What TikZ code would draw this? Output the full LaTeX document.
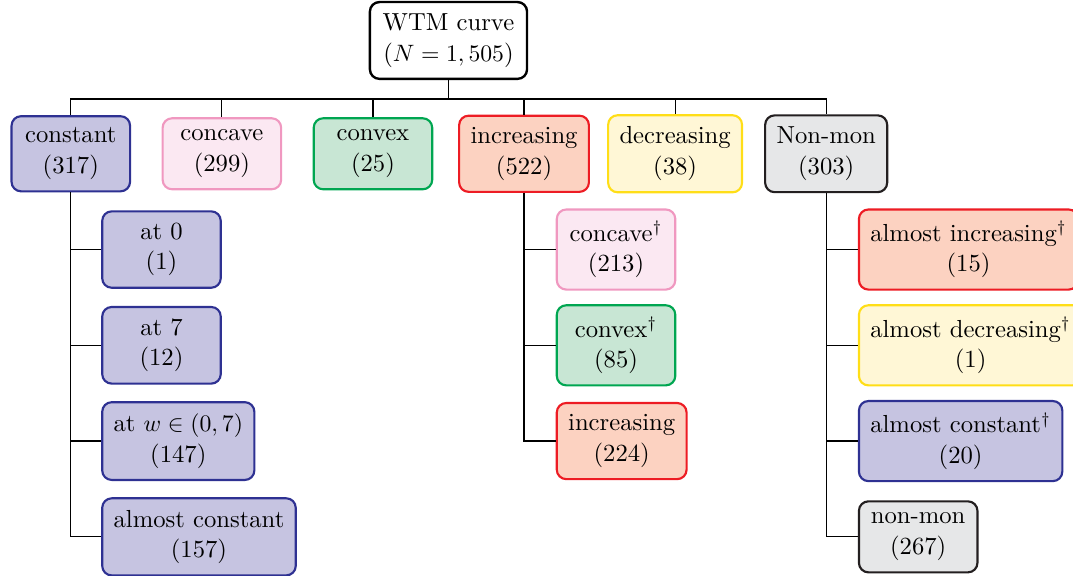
\documentclass[tikz,border=0pt]{standalone}
\usepackage{amsmath}
\usepackage{tikz}
\usetikzlibrary{positioning}
\definecolor{cstdraw}{RGB}{46,49,146}
\definecolor{cstfill}{RGB}{198,196,225}
\definecolor{ccvdraw}{RGB}{240,152,192}
\definecolor{ccvfill}{RGB}{251,232,242}
\definecolor{cvxdraw}{RGB}{0,166,81}
\definecolor{cvxfill}{RGB}{200,230,212}
\definecolor{incdraw}{RGB}{237,28,36}
\definecolor{incfill}{RGB}{252,210,193}
\definecolor{decdraw}{RGB}{255,222,23}
\definecolor{decfill}{RGB}{255,247,214}
\definecolor{nondraw}{RGB}{35,31,32}
\definecolor{nonfill}{RGB}{230,231,232}
\tikzset{
	box/.style = {rectangle, draw=black, line width=0.9pt, rounded corners=4pt, align=center, inner xsep=4.8pt, inner ysep=4.9pt, minimum width=50pt, font=\fontsize{10.4}{12.9}\selectfont},
	box_root/.style = {box, fill=white, line width=1pt, inner xsep=5.4pt},
	box_cst/.style = {box, draw=cstdraw, fill=cstfill},
	box_ccv/.style = {box, draw=ccvdraw, fill=ccvfill},
	box_cvx/.style = {box, draw=cvxdraw, fill=cvxfill},
	box_inc/.style = {box, draw=incdraw, fill=incfill},
	box_dec/.style = {box, draw=decdraw, fill=decfill},
	box_non/.style = {box, draw=nondraw, fill=nonfill},
	sub/.style = {anchor=west},
	edge/.style = {draw=black, line width=0.5pt}
}

\begin{document}
\begin{tikzpicture}
	\useasboundingbox (-6.65,0.6) rectangle (9.26,-7.94);
	\node [box_root] (root) at (0,0) {WTM curve\\($N=1,505$)};
	% first level
	\node [box_cst] (cst) at (-5.6,-1.68) {constant\\(317)};
	\node [box_ccv] (ccv) at (-3.36,-1.68) {concave\\(299)};
	\node [box_cvx] (cvx) at (-1.12,-1.68) {convex\\(25)};
	\node [box_inc] (inc) at (1.12,-1.68) {increasing\\(522)};
	\node [box_dec] (dec) at (3.36,-1.68) {decreasing\\(38)};
	\node [box_non] (non) at (5.6,-1.68) {Non-mon\\(303)};
	% second level
	\node [box_cst, below right=1.42cm and 0.45cm of cst.center, sub] (cst0) {at 0\\(1)};
	\node [box_cst, below=1.42cm of cst0.west, sub] (cst1) {at 7\\(12)};
	\node [box_cst, below=1.42cm of cst1.west, sub] (cst2) {at $w\in(0,7)$\\(147)};
	\node [box_cst, below=1.42cm of cst2.west, sub] (cst3) {almost constant\\(157)};
	\node [box_ccv, below right=1.42cm and 0.47cm of inc.center, sub] (inc0) {concave$^\dagger$\\(213)};
	\node [box_cvx, below=1.42cm of inc0.west, sub] (inc1) {convex$^\dagger$\\(85)};
	\node [box_inc, below=1.42cm of inc1.west, sub] (inc2) {increasing\\(224)};
	\node [box_inc, below right=1.42cm and 0.47cm of non.center, sub] (non0) {almost increasing$^\dagger$\\(15)};
	\node [box_dec, below=1.42cm of non0.west, sub] (non1) {almost decreasing$^\dagger$\\(1)};
	\node [box_cst, below=1.42cm of non1.west, sub] (non2) {almost constant$^\dagger$\\(20)};
	\node [box_non, below=1.42cm of non2.west, sub] (non3) {non-mon\\(267)};
	% connectors
	\foreach \n in {cst,ccv,cvx,inc,dec,non}
		\draw [edge] (root.south) -- ++(0,-0.28) -| (\n.north);
	\foreach \n in {cst0,cst1,cst2,cst3}
		\draw [edge] (cst.south) |- (\n.west);
	\foreach \n in {inc0,inc1,inc2}
		\draw [edge] (inc.south) |- (\n.west);
	\foreach \n in {non0,non1,non2,non3}
		\draw [edge] (non.south) |- (\n.west);
\end{tikzpicture}
\end{document}
